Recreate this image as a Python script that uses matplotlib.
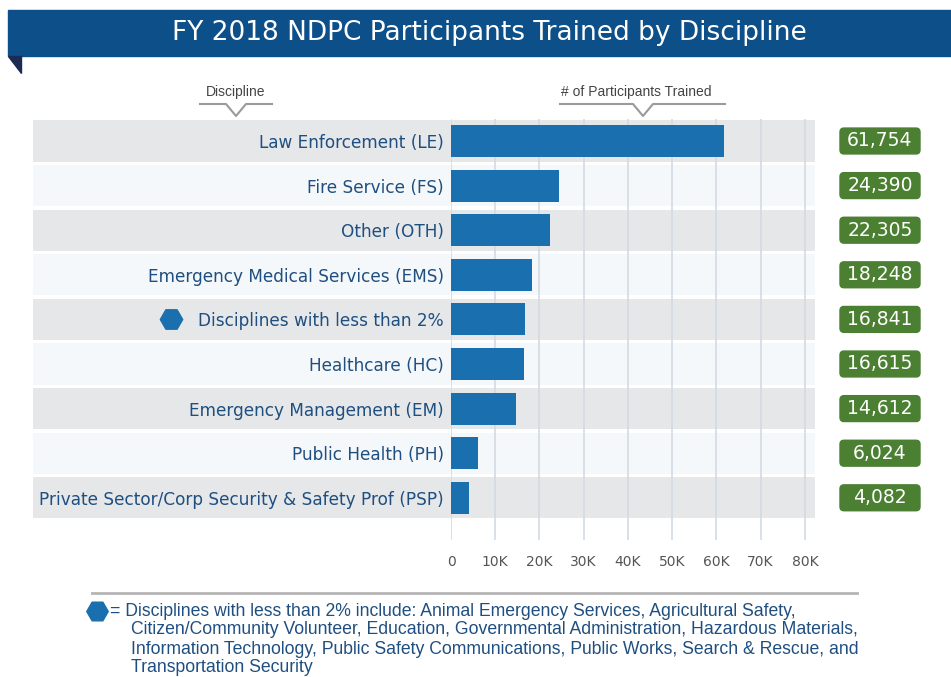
import matplotlib.pyplot as plt
from matplotlib.patches import Rectangle, Polygon, FancyBboxPatch
from matplotlib.transforms import blended_transform_factory

categories = ["Law Enforcement (LE)", "Fire Service (FS)", "Other (OTH)",
              "Emergency Medical Services (EMS)", "Disciplines with less than 2%",
              "Healthcare (HC)", "Emergency Management (EM)", "Public Health (PH)",
              "Private Sector/Corp Security & Safety Prof (PSP)"]
trained = [61754, 24390, 22305, 18248, 16841, 16615, 14612, 6024, 4082]
tick_values = [0, 10000, 20000, 30000, 40000, 50000, 60000, 70000, 80000]
tick_labels = ["0", "10K", "20K", "30K", "40K", "50K", "60K", "70K", "80K"]
footnote = ["= Disciplines with less than 2% include: Animal Emergency Services, Agricultural Safety,",
            "Citizen/Community Volunteer, Education, Governmental Administration, Hazardous Materials,",
            "Information Technology, Public Safety Communications, Public Works, Search & Rescue, and",
            "Transportation Security"]

BLUE = "#1a70ae"
NAVY = "#0d4f89"
TEXT = "#1f4f80"
GREEN = "#4b7f32"
narrow = ["Liberation Sans", "DejaVu Sans"]

fig = plt.figure(figsize=(9.51, 6.77), dpi=100)
fig.patch.set_facecolor("white")

# background axes in pixel units for the decorations
bg = fig.add_axes([0, 0, 1, 1], zorder=0)
bg.set_xlim(0, 951)
bg.set_ylim(677, 0)
bg.axis("off")

bg.add_patch(Rectangle((8, 10), 943, 46, color=NAVY))
bg.add_patch(Polygon([(8, 56), (21, 56), (21, 73)], color="#1b2b52"))
bg.text(489, 33, "FY 2018 NDPC Participants Trained by Discipline", color="white",
        fontsize=19, ha="center", va="center")

# column headers
bg.text(236, 92, "Discipline", color="#444444", fontsize=10, ha="center", va="center", family=narrow)
bg.plot([200, 226, 236, 246, 272], [104, 104, 116, 104, 104], color="#9a9a9a", lw=1.5)
bg.text(636, 92, "# of Participants Trained", color="#444444", fontsize=10, ha="center",
        va="center", family=narrow)
bg.plot([560, 633, 643, 653, 725], [104, 104, 116, 104, 104], color="#9a9a9a", lw=1.5)

# footnote
bg.plot([92, 857], [593, 593], color="#b5b5b5", lw=2)
bg.scatter([97], [611], marker="H", s=240, color=BLUE)
bg.text(110, 611, footnote[0], color=TEXT, fontsize=12.7, va="center", family=narrow)
for k, line in enumerate(footnote[1:]):
    bg.text(131, 630 + 19 * k, line, color=TEXT, fontsize=12.7, va="center", family=narrow)

# main bar axes
ax = fig.add_axes([451 / 951, 1 - 540 / 677, 364 / 951, (540 - 118.7) / 677], zorder=1)
ax.patch.set_visible(False)
n = len(categories)
ypos = list(range(n))
ax.set_xlim(0, 82300)
ax.set_ylim((540 - 141) / 44.6, -0.5)

for i in ypos:
    band = "#e6e7e8" if i % 2 == 0 else "#f5f8fa"
    ax.axhspan(i - 0.46, i + 0.46, xmin=(33 - 451) / 364, xmax=1, color=band,
               clip_on=False, zorder=0.1, lw=0)

ax.barh(ypos, trained, height=0.72, color=BLUE, zorder=3)
ax.set_axisbelow(True)
ax.grid(axis="x", color="#d3dae3", lw=1.2, zorder=0.5)
ax.set_xticks(tick_values)
ax.set_xticklabels(tick_labels, color="#555555", fontsize=10)
ax.set_yticks(ypos)
ax.set_yticklabels(categories, color=TEXT, fontsize=12.2)
ax.tick_params(axis="both", length=0)
ax.tick_params(axis="x", pad=11)
ax.tick_params(axis="y", pad=5)
for s in ax.spines.values():
    s.set_visible(False)

mixed = blended_transform_factory(bg.transData, ax.transData)
hex_row = categories.index("Disciplines with less than 2%")
ax.scatter([171], [hex_row], marker="H", s=260, color=BLUE, transform=mixed, clip_on=False)

for i, v in zip(ypos, trained):
    box = FancyBboxPatch((840, i - 0.29), 80, 0.58, boxstyle="round,pad=0,rounding_size=4",
                         mutation_aspect=1 / 44.6, transform=mixed, color=GREEN, clip_on=False)
    ax.add_patch(box)
    ax.text(880, i, f"{v:,}", transform=mixed, color="white", fontsize=13.5,
            ha="center", va="center", clip_on=False)

fig.savefig("out.png", dpi=100)
